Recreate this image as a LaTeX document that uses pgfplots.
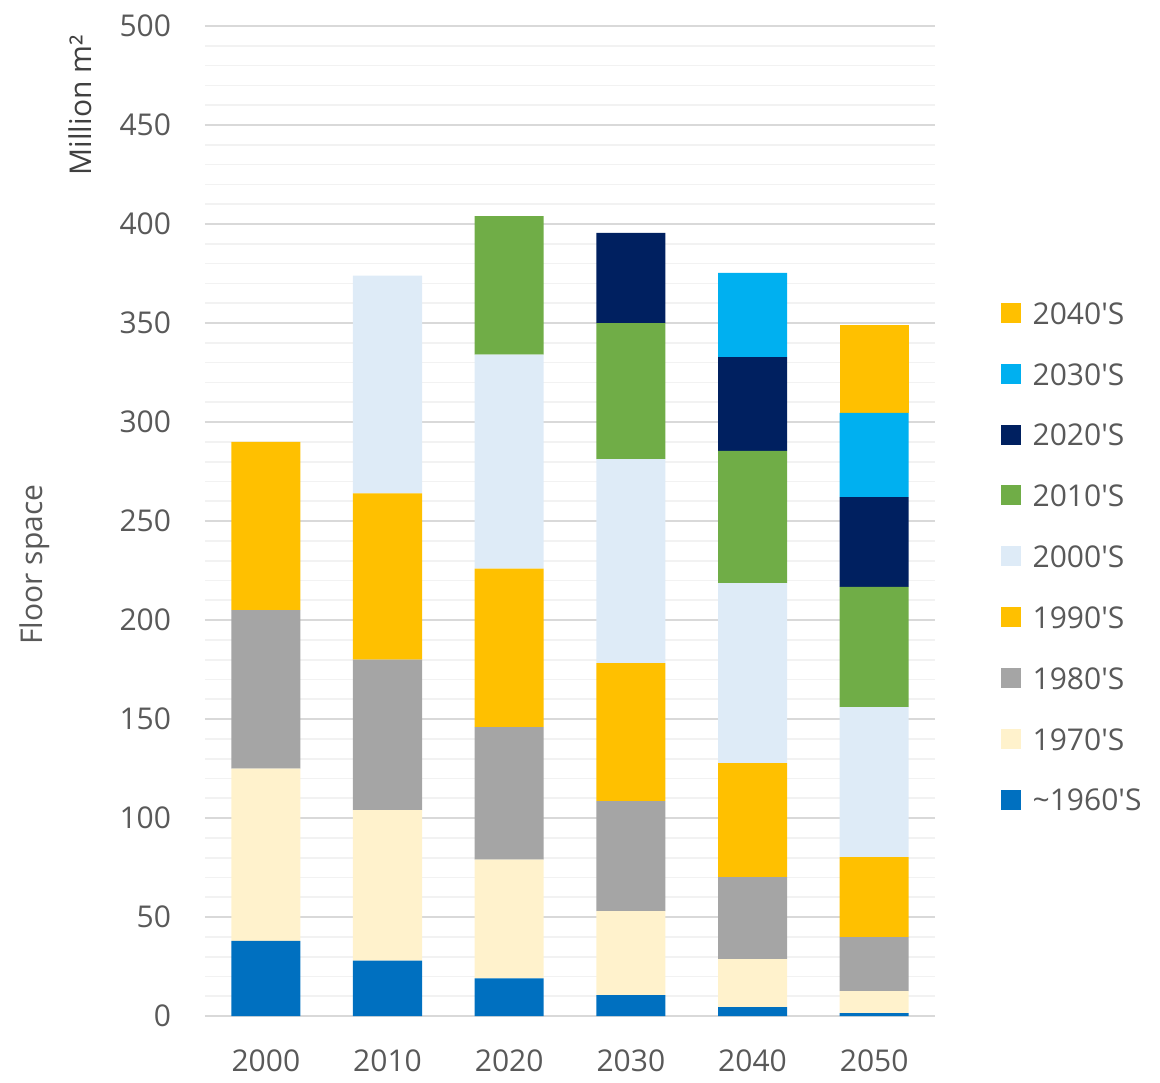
\documentclass[border=0pt]{standalone}
\usepackage{fontspec}
\setmainfont{Open Sans}
\usepackage{pgfplots}
\usepackage{pgfplotstable}
\pgfplotsset{compat=1.18}

\definecolor{c60}{HTML}{0070C0}
\definecolor{c70}{HTML}{FFF2CC}
\definecolor{c80}{HTML}{A5A5A5}
\definecolor{c90}{HTML}{FFC000}
\definecolor{c00}{HTML}{DEEBF7}
\definecolor{c10}{HTML}{70AD47}
\definecolor{c20}{HTML}{002060}
\definecolor{c30}{HTML}{00B0F0}
\definecolor{c40}{HTML}{FFC000}
\definecolor{txt}{HTML}{595959}
\definecolor{gridmaj}{HTML}{D9D9D9}
\definecolor{gridmin}{HTML}{F2F2F2}

% floor space by construction decade, million m2
\pgfplotstableread{
x  c60  c70  c80  c90  c00   c10  c20  c30  c40
0  38   87   80   85   0     0    0    0    0
1  28   76   76   84   110   0    0    0    0
2  19   60   67   80   108   70   0    0    0
3  10.6 42.4 55.6 69.7 103   68.7 45.5 0    0
4  4.5  24.3 41.4 57.6 90.9  66.7 47.4 42.5 0
5  1.5  11.1 27.3 40.4 75.8  60.7 45.3 42.5 44.5
}\floortab

\newcommand{\q}{\textquotesingle}

\begin{document}
\begin{tikzpicture}
\begin{axis}[
  ybar stacked, bar width=20.7pt,
  scale only axis, width=219pt, height=297pt,
  xmin=-0.5, xmax=5.5, ymin=0, ymax=500,
  xtick={0,...,5}, xticklabels={2000,2010,2020,2030,2040,2050},
  ytick={0,50,...,500}, minor ytick={10,20,...,490},
  ymajorgrids, yminorgrids,
  major grid style={draw=gridmaj, line width=0.5pt},
  minor grid style={draw=gridmin, line width=0.5pt},
  axis line style={draw=none},
  major tick length=0pt, minor tick length=0pt,
  /pgf/number format/assume math mode=true,
  tick label style={font=\fontsize{9}{10}\selectfont, text=txt},
  yticklabel style={inner sep=0pt, xshift=-10pt},
  xticklabel style={inner sep=0pt, yshift=-10pt},
  clip=false,
  every axis plot/.append style={draw=none,
    legend image code/.code={\fill[##1] (0pt,-3.1pt) rectangle (6pt,2.9pt);}},
  reverse legend,
  legend cell align=left,
  legend style={draw=none, fill=none, inner sep=0pt,
    at={(1.089,0.723)}, anchor=north west,
    font=\fontsize{9}{10}\selectfont, text=txt,
    nodes={inner sep=0pt, text height=7pt, text depth=0pt},
    row sep=11.25pt,
    /tikz/every odd column/.append style={column sep=3.6pt}},
]
\addplot[fill=c60] table[x=x, y=c60] {\floortab};
\addlegendentry{\textasciitilde1960\q S}
\addplot[fill=c70] table[x=x, y=c70] {\floortab};
\addlegendentry{1970\q S}
\addplot[fill=c80] table[x=x, y=c80] {\floortab};
\addlegendentry{1980\q S}
\addplot[fill=c90] table[x=x, y=c90] {\floortab};
\addlegendentry{1990\q S}
\addplot[fill=c00] table[x=x, y=c00] {\floortab};
\addlegendentry{2000\q S}
\addplot[fill=c10] table[x=x, y=c10] {\floortab};
\addlegendentry{2010\q S}
\addplot[fill=c20] table[x=x, y=c20] {\floortab};
\addlegendentry{2020\q S}
\addplot[fill=c30] table[x=x, y=c30] {\floortab};
\addlegendentry{2030\q S}
\addplot[fill=c40] table[x=x, y=c40] {\floortab};
\addlegendentry{2040\q S}

\coordinate (fs) at (rel axis cs:0,0.456);
\coordinate (mm) at (rel axis cs:0,0.92);
\coordinate (bl) at (rel axis cs:-0.2808,-0.0667);
\coordinate (tr) at (rel axis cs:1.3082,1.0263);
\end{axis}
\node[rotate=90, text=txt, font=\fontsize{9}{10}\selectfont]
  at ([xshift=-51pt]fs) {Floor space};
\node[rotate=90, text=black!75, font=\fontsize{9}{10}\selectfont]
  at ([xshift=-37.5pt]mm) {Million m²};
\path (bl) rectangle (tr);
\end{tikzpicture}
\end{document}
